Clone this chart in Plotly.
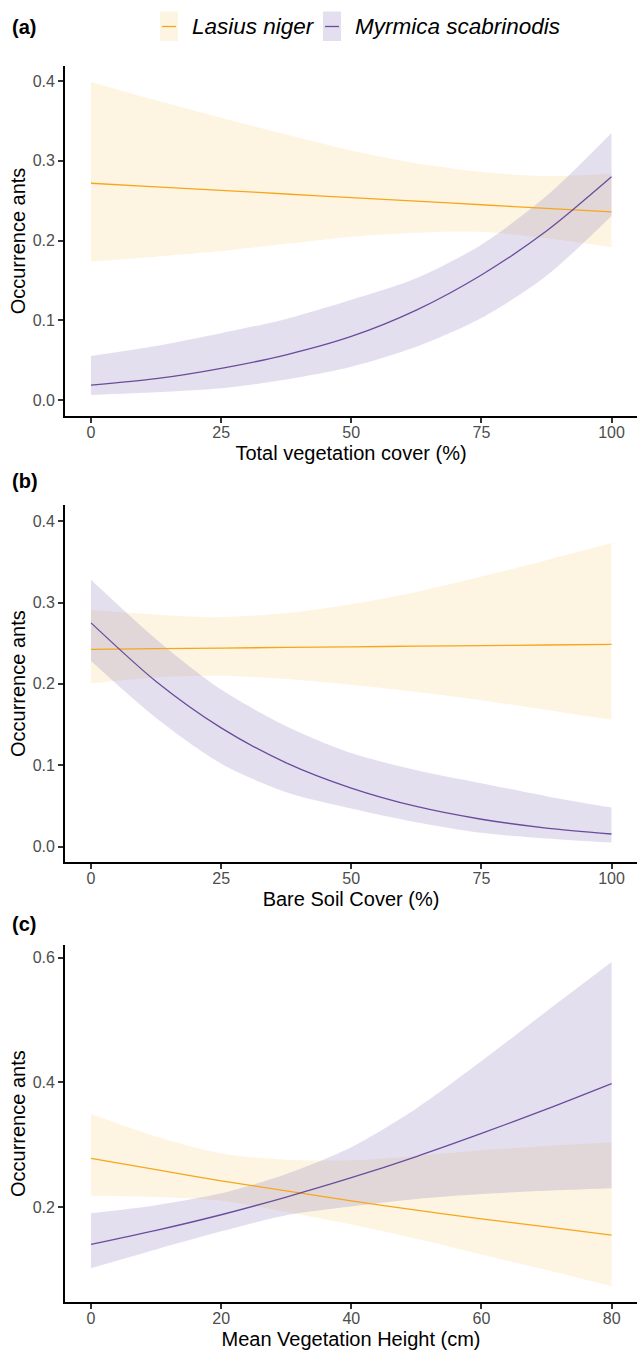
import plotly.graph_objects as go

W, H = 637, 1351

# ---------------- data ----------------
species = ["Lasius niger", "Myrmica scabrinodis"]

# (a) Total vegetation cover (%)
xa = [0, 12.5, 25, 37.5, 50, 62.5, 75, 87.5, 100]
a_las_fit = [0.272, 0.2675, 0.263, 0.2585, 0.254, 0.2495, 0.245, 0.2405, 0.236]
a_las_hi = [0.399, 0.376, 0.354, 0.333, 0.313, 0.297, 0.286, 0.281, 0.284]
a_las_lo = [0.174, 0.180, 0.187, 0.196, 0.205, 0.210, 0.211, 0.203, 0.192]
a_myr_fit = [0.019, 0.027, 0.040, 0.057, 0.080, 0.113, 0.157, 0.212, 0.280]
a_myr_hi = [0.0555, 0.068, 0.084, 0.102, 0.126, 0.153, 0.195, 0.256, 0.335]
a_myr_lo = [0.0066, 0.010, 0.015, 0.026, 0.042, 0.067, 0.103, 0.156, 0.231]

# (b) Bare soil cover (%)
xb = [0, 12.5, 25, 37.5, 50, 62.5, 75, 87.5, 100]
b_las_fit = [0.2425, 0.2433, 0.244, 0.2448, 0.2456, 0.2463, 0.2471, 0.2478, 0.2486]
b_las_hi = [0.291, 0.285, 0.282, 0.287, 0.298, 0.313, 0.332, 0.352, 0.373]
b_las_lo = [0.2007, 0.208, 0.210, 0.206, 0.199, 0.190, 0.180, 0.168, 0.156]
b_myr_fit = [0.275, 0.203, 0.146, 0.103, 0.072, 0.0494, 0.0337, 0.0229, 0.0156]
b_myr_hi = [0.328, 0.255, 0.193, 0.148, 0.115, 0.094, 0.078, 0.062, 0.048]
b_myr_lo = [0.228, 0.158, 0.102, 0.067, 0.047, 0.030, 0.017, 0.010, 0.005]

# (c) Mean vegetation height (cm)
xc = [0, 10, 20, 30, 40, 50, 60, 70, 80]
c_las_fit = [0.278, 0.260, 0.242, 0.226, 0.210, 0.195, 0.181, 0.168, 0.155]
c_las_hi = [0.349, 0.313, 0.286, 0.276, 0.275, 0.282, 0.291, 0.298, 0.304]
c_las_lo = [0.218, 0.216, 0.210, 0.192, 0.172, 0.149, 0.124, 0.099, 0.073]
c_myr_fit = [0.140, 0.1625, 0.1876, 0.216, 0.247, 0.281, 0.318, 0.357, 0.398]
c_myr_hi = [0.190, 0.203, 0.222, 0.253, 0.296, 0.358, 0.434, 0.514, 0.593]
c_myr_lo = [0.102, 0.132, 0.161, 0.187, 0.201, 0.213, 0.221, 0.226, 0.230]

x_titles = ["Total vegetation cover (%)", "Bare Soil Cover (%)", "Mean Vegetation Height (cm)"]
y_title = "Occurrence ants"
panel_labels = ["(a)", "(b)", "(c)"]
xa_ticks = [0, 25, 50, 75, 100]
xc_ticks = [0, 20, 40, 60, 80]
yab_ticks = [0.0, 0.1, 0.2, 0.3, 0.4]
yc_ticks = [0.2, 0.4, 0.6]

# ---------------- style ----------------
LINE_COL = {"Lasius niger": "#F7A61C", "Myrmica scabrinodis": "#6A4C9C"}
FILL_COL = {"Lasius niger": "rgba(244,199,88,0.18)", "Myrmica scabrinodis": "rgba(147,127,191,0.25)"}
FONT = "Liberation Sans, Arial, sans-serif"
SMOOTH = 0.8

fig = go.Figure()

panels = [
    (xa, [(a_las_fit, a_las_lo, a_las_hi), (a_myr_fit, a_myr_lo, a_myr_hi)]),
    (xb, [(b_las_fit, b_las_lo, b_las_hi), (b_myr_fit, b_myr_lo, b_myr_hi)]),
    (xc, [(c_las_fit, c_las_lo, c_las_hi), (c_myr_fit, c_myr_lo, c_myr_hi)]),
]

for i, (xs, series) in enumerate(panels):
    xax = "x" if i == 0 else f"x{i+1}"
    yax = "y" if i == 0 else f"y{i+1}"
    # ribbons first (lower bound, then upper bound filled to it)
    for sp, (fit, lo, hi) in zip(species, series):
        fig.add_trace(go.Scatter(
            x=xs, y=lo, mode="lines",
            line=dict(width=0, shape="spline", smoothing=SMOOTH),
            hoverinfo="skip", showlegend=False, xaxis=xax, yaxis=yax))
        fig.add_trace(go.Scatter(
            x=xs, y=hi, mode="lines", fill="tonexty", fillcolor=FILL_COL[sp],
            line=dict(width=0, shape="spline", smoothing=SMOOTH),
            hoverinfo="skip", showlegend=False, xaxis=xax, yaxis=yax))
    for sp, (fit, lo, hi) in zip(species, series):
        fig.add_trace(go.Scatter(
            x=xs, y=fit, mode="lines", name=sp,
            line=dict(color=LINE_COL[sp], width=1.3, shape="spline", smoothing=SMOOTH),
            showlegend=False, xaxis=xax, yaxis=yax))

def py(px):
    return 1 - px / H

# domains in pixel space
y_dom = [(66, 416), (505, 862.3), (945, 1302.3)]
y_rng = [(-0.0197, 0.4189), (-0.0192, 0.4198), (0.0472, 0.6202)]
x_rng = [(-5, 104.9), (-5, 104.9), (-4, 83.9)]
x_tk = [xa_ticks, xa_ticks, xc_ticks]
y_tk = [yab_ticks, yab_ticks, yc_ticks]

axis_common = dict(
    showline=True, linecolor="black", linewidth=1.8, showgrid=False, zeroline=False,
    ticks="outside", ticklen=5, tickwidth=1.5, tickcolor="#333333",
    tickfont=dict(family=FONT, size=16, color="#4D4D4D"), automargin=False,
)

layout_axes = {}
for i in range(3):
    sfx = "" if i == 0 else str(i + 1)
    layout_axes[f"xaxis{sfx}"] = dict(
        axis_common, domain=[65 / W, 1.0], range=list(x_rng[i]), anchor=f"y{sfx}",
        tickvals=x_tk[i], ticktext=[str(v) for v in x_tk[i]], ticklabelstandoff=-4,
        title=dict(text=x_titles[i], font=dict(family=FONT, size=20, color="black"), standoff=6),
    )
    layout_axes[f"yaxis{sfx}"] = dict(
        axis_common, domain=[py(y_dom[i][1]), py(y_dom[i][0])], range=list(y_rng[i]), anchor=f"x{sfx}",
        tickvals=y_tk[i], ticktext=[f"{v:.1f}" for v in y_tk[i]],
        title=dict(text=y_title, font=dict(family=FONT, size=20, color="black"), standoff=2),
    )

annotations = []
label_y = [27, 481, 924]
for lab, yy in zip(panel_labels, label_y):
    annotations.append(dict(
        text=f"<b>{lab}</b>", x=10 / W, y=py(yy), xref="paper", yref="paper",
        xanchor="left", yanchor="middle", showarrow=False,
        font=dict(family=FONT, size=20, color="black")))

# manual legend
shapes = []
leg_keys = [(160, 178, 190), (323, 341, 353)]
for sp, (k0, k1, tx) in zip(species, leg_keys):
    shapes.append(dict(type="rect", xref="paper", yref="paper",
                       x0=k0 / W, x1=k1 / W, y0=py(41), y1=py(11.5),
                       fillcolor=FILL_COL[sp], line=dict(width=0)))
    shapes.append(dict(type="line", xref="paper", yref="paper",
                       x0=(k0 + 2) / W, x1=(k1 - 2) / W, y0=py(26.5), y1=py(26.5),
                       line=dict(color=LINE_COL[sp], width=1.3)))
    annotations.append(dict(
        text=f"<i>{sp}</i>", x=tx / W, y=py(26.5), xref="paper", yref="paper",
        xanchor="left", yanchor="middle", showarrow=False,
        font=dict(family=FONT, size=22.5, color="black")))

fig.update_layout(
    width=W, height=H, margin=dict(l=0, r=0, t=0, b=0),
    plot_bgcolor="white", paper_bgcolor="white", showlegend=False,
    annotations=annotations, shapes=shapes, **layout_axes,
)

fig.write_html("out.html", config={"displayModeBar": False},
               post_script="document.body.style.margin='0';document.body.style.overflow='hidden';")
